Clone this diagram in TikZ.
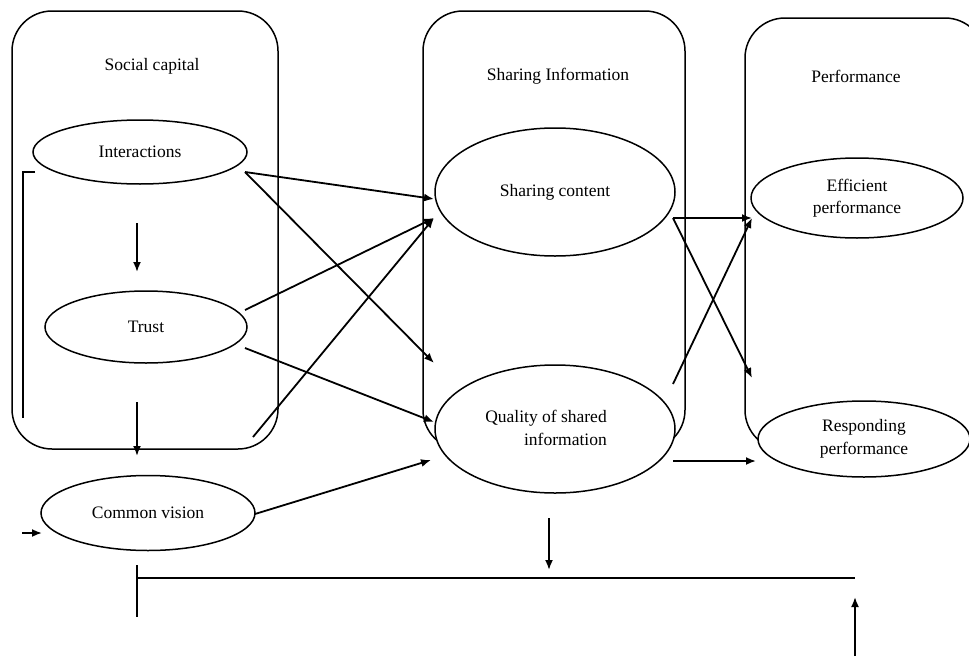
\documentclass[tikz,border=0pt]{standalone}
\usepackage{fontspec}
\setmainfont{Liberation Serif}
\usetikzlibrary{shapes.geometric,arrows.meta}
\begin{document}
\begin{tikzpicture}[x=1pt,y=-1pt, line width=1.5pt,
  ell/.style={draw, ellipse, fill=white, inner sep=0pt, font=\fontsize{17.5}{22.5}\selectfont, align=center},
  grp/.style={draw, rounded corners=40pt},
  lbl/.style={font=\fontsize{17.5}{22.5}\selectfont, inner sep=0pt},
  arr/.style={line width=1.8pt, -{Latex[length=10pt,width=8pt]}},
  ln/.style={line width=1.7pt},
]
\useasboundingbox (0,0) rectangle (969,656);
\begin{scope}
\clip (0,0) rectangle (969,656);
% group boxes
\draw[grp] (12,11) rectangle (278,449);
\draw[grp] (423,11) rectangle (685,450);
\draw[grp] (745,18) rectangle (985,450);
\node[lbl] (tsc) at (152,66) {Social\ capital};
\node[lbl] (tsi) at (558,76) {Sharing\ Information};
\node[lbl] (tpf) at (856,76) {Performance};
% ellipses
\node[ell, minimum width=214pt, minimum height=64pt] (int) at (140,152) {Interactions};
\node[ell, minimum width=202pt, minimum height=72pt] (tru) at (146,327) {Trust};
\node[ell, minimum width=214pt, minimum height=75pt] (cv) at (148,513) {Common\ vision};
\node[ell, minimum width=240pt, minimum height=128pt] (sc) at (555,192) {Sharing\ content};
\node[ell, minimum width=240pt, minimum height=128pt] (qu) at (555,429) {};
\node[lbl, align=right] (qut) at (546,428) {Quality of shared\\information};
\node[ell, minimum width=212pt, minimum height=80pt] (eff) at (857,198) {Efficient\\performance};
\node[ell, minimum width=212pt, minimum height=76pt] (res) at (864,439) {Responding\\performance};
% connector end points
\coordinate (i0) at (245,172);
\coordinate (sc1) at (434,199);
\coordinate (sc2) at (434,218);
\coordinate (q1) at (434,363);
\coordinate (q2) at (434,422);
\coordinate (q3) at (431,460);
\coordinate (t1) at (245,310);
\coordinate (t2) at (245,348);
\coordinate (c1) at (253,437);
\coordinate (c2) at (255,514);
\draw[arr] (i0) -- (sc1);
\draw[arr] (i0) -- (q1);
\draw[arr] (t1) -- (sc2);
\draw[arr] (t2) -- (q2);
\draw[arr] (c1) -- (sc2);
\draw[arr] (c2) -- (q3);
% vertical arrows in social capital
\coordinate (v1a) at (137,223);
\coordinate (v1b) at (137,272);
\coordinate (v2a) at (137,402);
\coordinate (v2b) at (137,456);
\draw[arr] (v1a) -- (v1b);
\draw[arr] (v2a) -- (v2b);
% bracket
\coordinate (b1) at (35,172);
\coordinate (b2) at (23,172);
\coordinate (b3) at (23,418);
\draw[ln] (b1) -- (b2) -- (b3);
% small arrow left of common vision
\coordinate (s1) at (22,533);
\coordinate (s2) at (42,533);
\draw[arr] (s1) -- (s2);
% performance arrows
\coordinate (p0) at (673,218);
\coordinate (pe) at (752,218);
\coordinate (pr) at (752,378);
\coordinate (p1) at (673,384);
\coordinate (p2) at (673,461);
\coordinate (pr2) at (756,461);
\draw[arr] (p0) -- (pe);
\draw[arr] (p0) -- (pr);
\draw[arr] (p1) -- (pe);
\draw[arr] (p2) -- (pr2);
% bottom
\coordinate (d1) at (549,518);
\coordinate (d2) at (549,570);
\coordinate (h1) at (137,578);
\coordinate (h2) at (855,578);
\coordinate (k1) at (137,565);
\coordinate (k2) at (137,617);
\coordinate (u1) at (855,656);
\coordinate (u2) at (855,597);
\draw[arr] (d1) -- (d2);
\draw[ln] (h1) -- (h2);
\draw[ln] (k1) -- (k2);
\draw[arr] (u1) -- (u2);
\end{scope}
\end{tikzpicture}
\end{document}
